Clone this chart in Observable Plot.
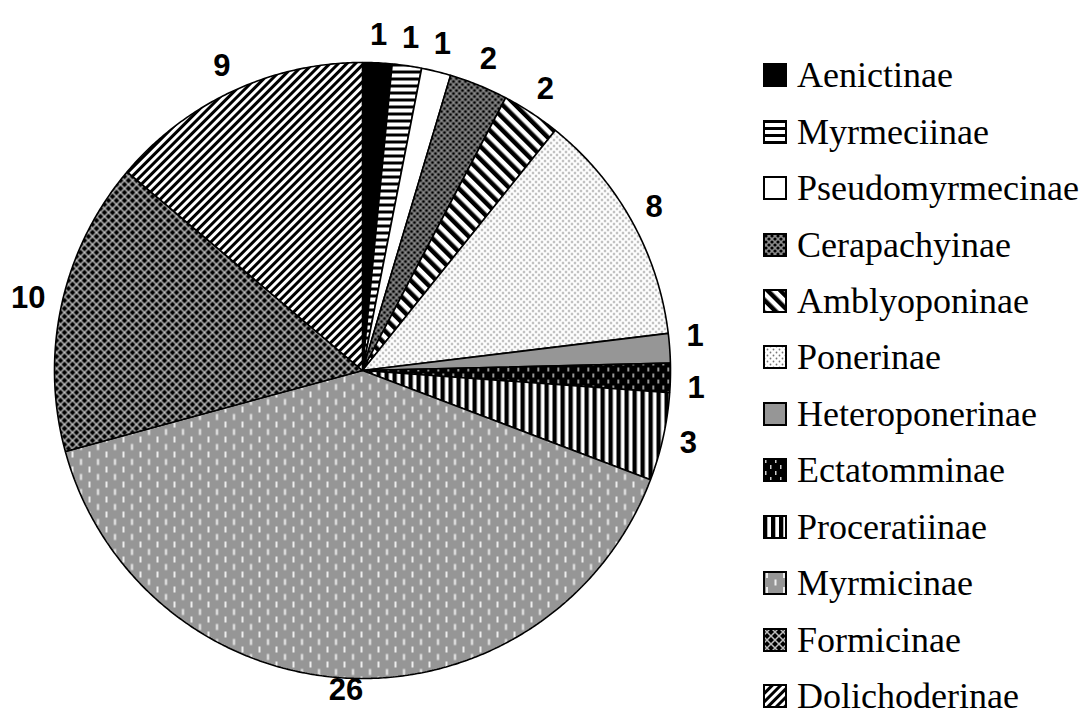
<!DOCTYPE html>
<html>
<head>
<meta charset="utf-8">
<script src="https://cdn.jsdelivr.net/npm/d3@7"></script>
<script src="https://cdn.jsdelivr.net/npm/@observablehq/plot@0.6"></script>
<style>
  html, body { margin: 0; padding: 0; background: #fff; }
  #wrap { position: relative; width: 1087px; height: 725px; overflow: hidden; }
  #chart { position: absolute; left: 0; top: 0; }
  #legend { position: absolute; left: 763px; top: 47px; }
  .item { display: flex; align-items: center; height: 56.45px; }
  .item svg { display: block; flex: none; }
  .item span { font-family: "Liberation Serif", "Times New Roman", "DejaVu Serif", serif; font-size: 36px; color: #000; margin-left: 10px; white-space: nowrap; line-height: 1; }
</style>
</head>
<body>
<svg width="0" height="0" style="position:absolute">
  <defs>
    <pattern id="p0" patternUnits="userSpaceOnUse" width="4" height="4"><rect width="4" height="4" fill="#000"/></pattern>
    <pattern id="p1" patternUnits="userSpaceOnUse" width="7" height="7"><rect width="7" height="7" fill="#fff"/><rect y="0" width="7" height="3" fill="#000"/></pattern>
    <pattern id="p2" patternUnits="userSpaceOnUse" width="4" height="4"><rect width="4" height="4" fill="#fff"/></pattern>
    <pattern id="p3" patternUnits="userSpaceOnUse" width="6" height="6"><rect width="6" height="6" fill="#8c8c8c"/><circle cx="0" cy="0" r="1.6" fill="#000"/><circle cx="6" cy="0" r="1.6" fill="#000"/><circle cx="0" cy="6" r="1.6" fill="#000"/><circle cx="6" cy="6" r="1.6" fill="#000"/><circle cx="3" cy="3" r="1.6" fill="#000"/></pattern>
    <pattern id="p4" patternUnits="userSpaceOnUse" width="9" height="9" patternTransform="rotate(-45)"><rect width="9" height="9" fill="#fff"/><rect width="4.5" height="9" fill="#000"/></pattern>
    <pattern id="p5" patternUnits="userSpaceOnUse" width="6" height="6"><rect width="6" height="6" fill="#fff"/><circle cx="1.5" cy="1.5" r="0.9" fill="#777"/><circle cx="4.5" cy="4.5" r="0.9" fill="#777"/></pattern>
    <pattern id="p6" patternUnits="userSpaceOnUse" width="4" height="4"><rect width="4" height="4" fill="#969696"/></pattern>
    <pattern id="p7" patternUnits="userSpaceOnUse" width="10" height="12"><rect width="10" height="12" fill="#000"/><rect x="2" y="1" width="1.5" height="4" fill="#ccc"/><rect x="7" y="7" width="1.5" height="4" fill="#ccc"/></pattern>
    <pattern id="p8" patternUnits="userSpaceOnUse" width="8" height="8"><rect width="8" height="8" fill="#fff"/><rect width="4.3" height="8" fill="#000"/></pattern>
    <pattern id="p9" patternUnits="userSpaceOnUse" width="17" height="15"><rect width="17" height="15" fill="#969696"/><rect x="3" y="1" width="2" height="6" fill="#eee"/><rect x="11.5" y="8.5" width="2" height="6" fill="#eee"/></pattern>
    <pattern id="p10" patternUnits="userSpaceOnUse" width="8" height="8"><rect width="8" height="8" fill="#000"/><path d="M0,0L8,8M8,0L0,8" stroke="#bdbdbd" stroke-width="1.5"/></pattern>
    <pattern id="p11" patternUnits="userSpaceOnUse" width="6" height="6" patternTransform="rotate(45)"><rect width="6" height="6" fill="#fff"/><rect width="3" height="6" fill="#000"/></pattern>
  </defs>
</svg>
<div id="wrap">
  <div id="chart"></div>
  <div id="legend"></div>
</div>
<script>
// ---- data ----
const categories = ["Aenictinae", "Myrmeciinae", "Pseudomyrmecinae", "Cerapachyinae", "Amblyoponinae", "Ponerinae", "Heteroponerinae", "Ectatomminae", "Proceratiinae", "Myrmicinae", "Formicinae", "Dolichoderinae"];
const values = [1, 1, 1, 2, 2, 8, 1, 1, 3, 26, 10, 9];
const patternIds = ["p0", "p1", "p2", "p3", "p4", "p5", "p6", "p7", "p8", "p9", "p10", "p11"];

// ---- layout ----
const W = 740, H = 725;
const RPX = 308;          // pie radius in px
const CX = 362, CY = 370; // pie center in px
const FS = 31;            // label font size

const arcs = d3.pie().sort(null).value(d => d)(values);

const slices = arcs.map((a, i) => {
  const pts = [{x: 0, y: 0}];
  const n = Math.max(4, Math.ceil((a.endAngle - a.startAngle) / 0.008));
  for (let k = 0; k <= n; k++) {
    const t = a.startAngle + (a.endAngle - a.startAngle) * k / n;
    pts.push({x: Math.sin(t), y: Math.cos(t)});
  }
  pts.push({x: 0, y: 0});
  return {name: categories[i], pts};
});

// label placement (pixel offsets from center, y down), then convert to unit space
const gap = 17;
const lab = arcs.map((a, i) => {
  const m = (a.startAngle + a.endAngle) / 2;
  const s = Math.sin(m), c = Math.cos(m);
  const txt = String(values[i]);
  const hw = txt.length * 0.556 * FS / 2;
  const hh = 0.716 * FS / 2;
  const px = s * (RPX + gap) + s * hw;
  let py = -(c * (RPX + gap) + c * hh);
  py = Math.min(py, 320); // keep inside frame
  return {px, py, hw, hh, label: txt};
});
// simple collision separation between neighbouring labels
for (let iter = 0; iter < 20; iter++) {
  for (let i = 0; i < lab.length - 1; i++) {
    const a = lab[i], b = lab[i + 1];
    if (Math.abs(a.px - b.px) < a.hw + b.hw + 4) {
      const need = 52;
      const d = b.py - a.py;
      if (Math.abs(d) < need) {
        const sgn = d >= 0 ? 1 : -1;
        const shift = (need - Math.abs(d)) / 2;
        a.py -= sgn * shift; b.py += sgn * shift;
      }
    }
  }
}
const labels = lab.map(d => ({x: d.px / RPX, y: -d.py / RPX, label: d.label}));

const chart = Plot.plot({
  width: W,
  height: H,
  marginTop: 0, marginRight: 0, marginBottom: 0, marginLeft: 0,
  x: {domain: [-CX / RPX, (W - CX) / RPX], axis: null},
  y: {domain: [-(H - CY) / RPX, CY / RPX], axis: null},
  style: {background: "white", overflow: "visible"},
  marks: [
    ...slices.map((s, i) => Plot.line(s.pts, {
      x: "x", y: "y",
      fill: `url(#${patternIds[i]})`,
      stroke: "black", strokeWidth: 1.6, strokeLinejoin: "miter", curve: "linear"
    })),
    Plot.text(labels, {
      x: "x", y: "y", text: "label",
      fontFamily: "Liberation Sans, Arial, sans-serif",
      fontWeight: "bold", fontSize: FS, fill: "black",
      textAnchor: "middle", lineAnchor: "middle"
    })
  ]
});
document.getElementById("chart").appendChild(chart);

// ---- legend ----
const legend = document.getElementById("legend");
categories.forEach((name, i) => {
  const row = document.createElement("div");
  row.className = "item";
  row.innerHTML = `<svg width="24" height="24"><rect x="1" y="1" width="22" height="22" fill="url(#${patternIds[i]})" stroke="black" stroke-width="2"/></svg><span>${name}</span>`;
  legend.appendChild(row);
});
</script>
</body>
</html>
